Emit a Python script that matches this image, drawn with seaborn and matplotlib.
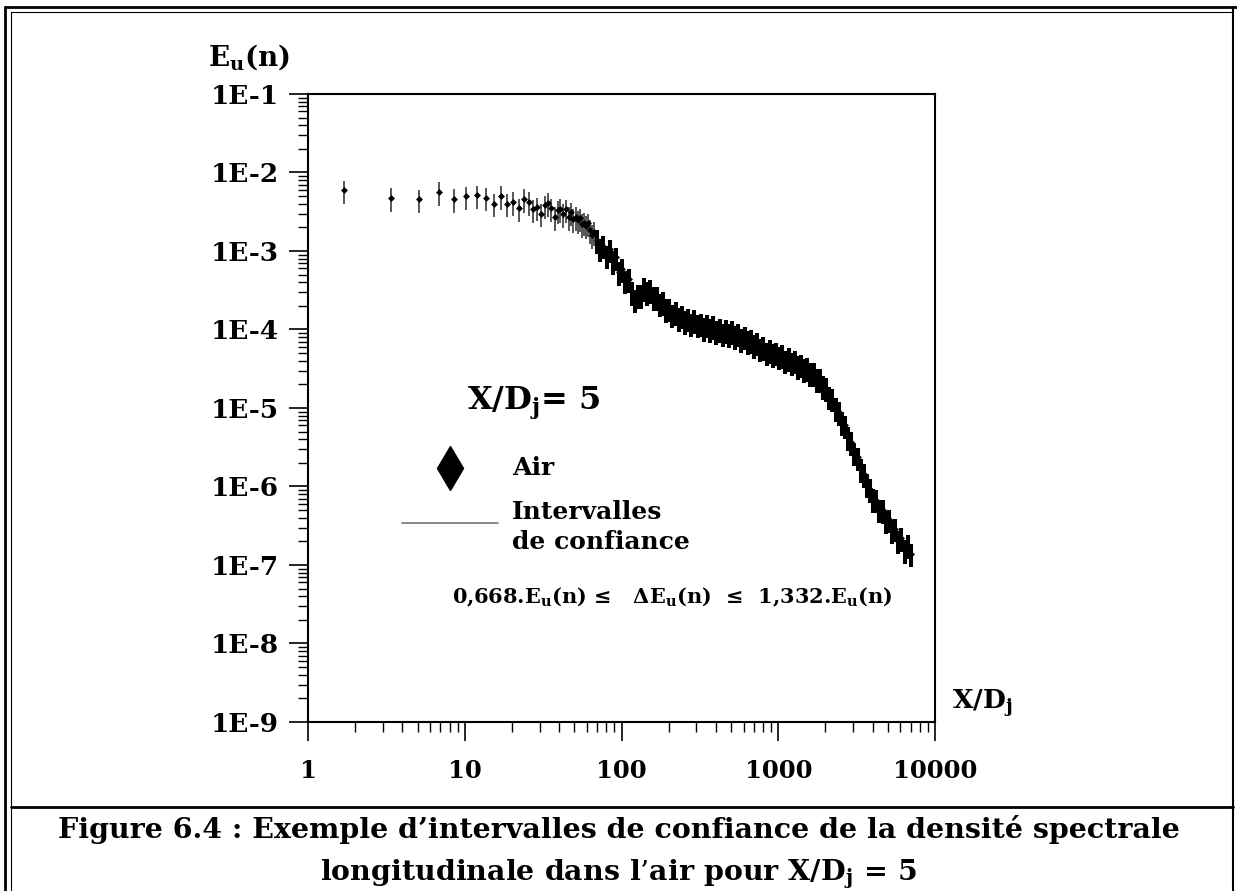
import numpy as np
import pandas as pd
import matplotlib
matplotlib.use("Agg")
import matplotlib.pyplot as plt
import seaborn as sns
from matplotlib.lines import Line2D
from matplotlib.ticker import LogLocator, NullFormatter

# ---- valeurs ----
# basses frequences : points isoles (X/Dj, Eu(n))
freq_low = [1.7, 3.4, 5.1, 6.8, 8.5, 10.2, 11.9, 13.6, 15.3, 17.0,
            18.7, 20.4, 22.1, 23.8, 25.5, 27.2, 28.9, 30.6, 32.3, 34.0,
            35.7, 37.4, 39.1, 40.8, 42.5, 44.2, 45.9, 47.6, 49.3, 51.0,
            52.7, 54.4, 56.1, 57.8, 59.5, 61.2, 62.9, 64.6, 66.3]
eu_low = [5.9e-3, 4.7e-3, 4.55e-3, 5.65e-3, 4.6e-3, 4.95e-3, 5.1e-3, 4.8e-3, 4.0e-3, 5.0e-3,
          4.0e-3, 4.2e-3, 3.5e-3, 4.6e-3, 4.2e-3, 3.4e-3, 3.6e-3, 3.0e-3, 3.8e-3, 4.1e-3,
          3.5e-3, 2.7e-3, 3.3e-3, 3.45e-3, 2.95e-3, 3.4e-3, 2.7e-3, 3.1e-3, 2.55e-3, 2.7e-3,
          2.45e-3, 2.6e-3, 2.2e-3, 2.3e-3, 2.1e-3, 2.25e-3, 1.85e-3, 1.6e-3, 1.75e-3]

# hautes frequences : nuage dense
freq_high = [70, 73.3, 76.7, 80.4, 84.2, 88.1, 92.3, 96.6, 101, 106,
             111, 116, 122, 127, 133, 140, 146, 153, 160, 168,
             176, 184, 193, 202, 211, 221, 232, 243, 254, 266,
             279, 292, 306, 320, 335, 351, 367, 385, 403, 422,
             442, 462, 484, 507, 531, 556, 582, 610, 638, 669,
             700, 733, 767, 804, 842, 881, 923, 966, 1012, 1060,
             1110, 1162, 1217, 1274, 1334, 1397, 1463, 1532, 1604, 1680,
             1759, 1842, 1929, 2020, 2115, 2215, 2319, 2429, 2543, 2663,
             2789, 2920, 3058, 3202, 3353, 3511, 3677, 3850, 4032, 4222,
             4421, 4629, 4848, 5076, 5316, 5567, 5829, 6104, 6392, 6693, 7009]
eu_high = [1.38e-3, 1.07e-3, 1.17e-3, 8.7e-4, 1.05e-3, 7.4e-4, 8.3e-4, 5.4e-4, 5.9e-4, 4.2e-4,
           4.4e-4, 3.0e-4, 2.4e-4, 2.75e-4, 2.75e-4, 3.4e-4, 3.0e-4, 3.2e-4, 2.6e-4, 2.6e-4,
           2.15e-4, 2.25e-4, 1.82e-4, 1.86e-4, 1.55e-4, 1.66e-4, 1.41e-4, 1.51e-4, 1.29e-4, 1.38e-4,
           1.2e-4, 1.32e-4, 1.15e-4, 1.2e-4, 1.05e-4, 1.15e-4, 1.02e-4, 1.1e-4, 9.5e-5, 1.02e-4,
           8.9e-5, 9.8e-5, 8.7e-5, 9.5e-5, 8.3e-5, 8.9e-5, 7.6e-5, 8.1e-5, 7.1e-5, 7.4e-5,
           6.3e-5, 6.8e-5, 5.75e-5, 6.0e-5, 5.1e-5, 5.5e-5, 4.9e-5, 5.1e-5, 4.5e-5, 4.7e-5,
           4.0e-5, 4.3e-5, 3.8e-5, 4.0e-5, 3.45e-5, 3.6e-5, 3.15e-5, 3.25e-5, 2.8e-5, 2.8e-5,
           2.35e-5, 2.35e-5, 1.9e-5, 1.8e-5, 1.4e-5, 1.32e-5, 1.0e-5, 8.9e-6, 6.6e-6, 6.0e-6,
           4.3e-6, 3.7e-6, 2.7e-6, 2.35e-6, 1.66e-6, 1.45e-6, 1.07e-6, 9.3e-7, 6.9e-7, 6.8e-7,
           5.1e-7, 5.0e-7, 3.7e-7, 3.8e-7, 2.8e-7, 2.9e-7, 2.05e-7, 2.2e-7, 1.55e-7, 1.8e-7, 1.4e-7]

# bornes de l'intervalle de confiance
COEF_BAS = 0.668
COEF_HAUT = 1.332

xticks = [1, 10, 100, 1000, 10000]
xtick_labels = ["1", "10", "100", "1000", "10000"]
yticks = [1e-9, 1e-8, 1e-7, 1e-6, 1e-5, 1e-4, 1e-3, 1e-2, 1e-1]
ytick_labels = ["1E-9", "1E-8", "1E-7", "1E-6", "1E-5", "1E-4", "1E-3", "1E-2", "1E-1"]

sns.set_theme(style="ticks")
plt.rcParams["font.family"] = ["DejaVu Serif"]
plt.rcParams["font.weight"] = "bold"
plt.rcParams["mathtext.fontset"] = "dejavuserif"
plt.rcParams["text.color"] = "black"
plt.rcParams["xtick.color"] = "black"
plt.rcParams["ytick.color"] = "black"
plt.rcParams["axes.edgecolor"] = "black"

fig = plt.figure(figsize=(12.37, 8.91), dpi=100)
ax = fig.add_axes([0.249, 0.1897, 0.5069, 0.7048])
ax.set_xscale("log")
ax.set_yscale("log")

df_low = pd.DataFrame({"f": freq_low, "eu": eu_low})
df_high = pd.DataFrame({"f": freq_high, "eu": eu_high})

for d, lw, col in [(df_low, 1.2, "#3a3a3a"), (df_high, 2.9, "black")]:
    err = [d["eu"] * (1 - COEF_BAS), d["eu"] * (COEF_HAUT - 1)]
    ax.errorbar(d["f"], d["eu"], yerr=err, fmt="none", ecolor=col, elinewidth=lw, capsize=0)
    sns.scatterplot(data=d, x="f", y="eu", marker="D", s=9, color="black",
                    edgecolor="black", linewidth=0.5, ax=ax, legend=False, zorder=3)

ax.set_xlim(1, 10000)
ax.set_ylim(1e-9, 1e-1)
ax.set_xticks(xticks, labels=xtick_labels)
ax.set_yticks(yticks, labels=ytick_labels)
ax.xaxis.set_minor_locator(LogLocator(base=10, subs=np.arange(2, 10), numticks=100))
ax.yaxis.set_minor_locator(LogLocator(base=10, subs=np.arange(2, 10), numticks=100))
ax.xaxis.set_minor_formatter(NullFormatter())
ax.yaxis.set_minor_formatter(NullFormatter())
ax.set_xlabel("")
ax.set_ylabel("")

ax.tick_params(axis="both", which="major", direction="out", length=14, width=1.2, color="black")
ax.tick_params(axis="both", which="minor", direction="out", length=7, width=1.0, color="black")
ax.tick_params(axis="y", which="major", labelsize=19, pad=7, labelcolor="black")
ax.tick_params(axis="x", which="major", labelsize=17.5, pad=13, labelcolor="black")
for sp in ax.spines.values():
    sp.set_linewidth(1.5)
    sp.set_color("black")

# titres des axes
fig.text(208 / 1237, 1 - 57 / 891, r"$\mathbf{E_u(n)}$", fontsize=20, ha="left", va="center")
fig.text(952 / 1237, 1 - 703 / 891, r"$\mathbf{X/D_j}$", fontsize=19, ha="left", va="center")

# annotations dans le graphe
ax.text(0.2536, 0.508, r"X/D$_\mathbf{j}$= 5", transform=ax.transAxes, fontsize=23, va="center")
ax.plot([0.2265], [0.4045], marker="d", ms=22, color="black", transform=ax.transAxes, clip_on=False)
ax.text(0.3254, 0.4045, "Air", transform=ax.transAxes, fontsize=18, va="center")
ax.plot([0.150, 0.303], [0.317, 0.317], color="#777777", lw=1.2, transform=ax.transAxes)
ax.text(0.3254, 0.334, "Intervalles", transform=ax.transAxes, fontsize=18, va="center")
ax.text(0.3254, 0.287, "de confiance", transform=ax.transAxes, fontsize=18, va="center")
ax.text(0.2297, 0.199,
        "0,668.E$_\\mathbf{u}$(n) \u2264   \u0394E$_\\mathbf{u}$(n)  \u2264  1,332.E$_\\mathbf{u}$(n)",
        transform=ax.transAxes, fontsize=15, va="center", ha="left")

# legende de la figure
fig.text(0.5, 1 - 829 / 891, "Figure 6.4 : Exemple d\u2019intervalles de confiance de la densit\u00e9 spectrale",
         fontsize=20.5, ha="center", va="center")
fig.text(0.5, 1 - 874 / 891, "longitudinale dans l\u2019air pour X/D$_\\mathbf{j}$ = 5",
         fontsize=20.5, ha="center", va="center")

# cadre double autour de la page
W, H = 1237, 891
def ligne(x0, y0, x1, y1, lw):
    fig.add_artist(Line2D([x0 / W, x1 / W], [1 - y0 / H, 1 - y1 / H], color="black", lw=lw))

ligne(5, 7, 1236, 7, 2.0)
ligne(11, 12, 1233, 12, 0.8)
ligne(5, 7, 5, 891, 2.0)
ligne(11, 12, 11, 891, 0.8)
ligne(1233, 7, 1233, 891, 1.5)
ligne(11, 807, 1233, 807, 2.0)

fig.savefig("out.png", dpi=100)
plt.close(fig)
